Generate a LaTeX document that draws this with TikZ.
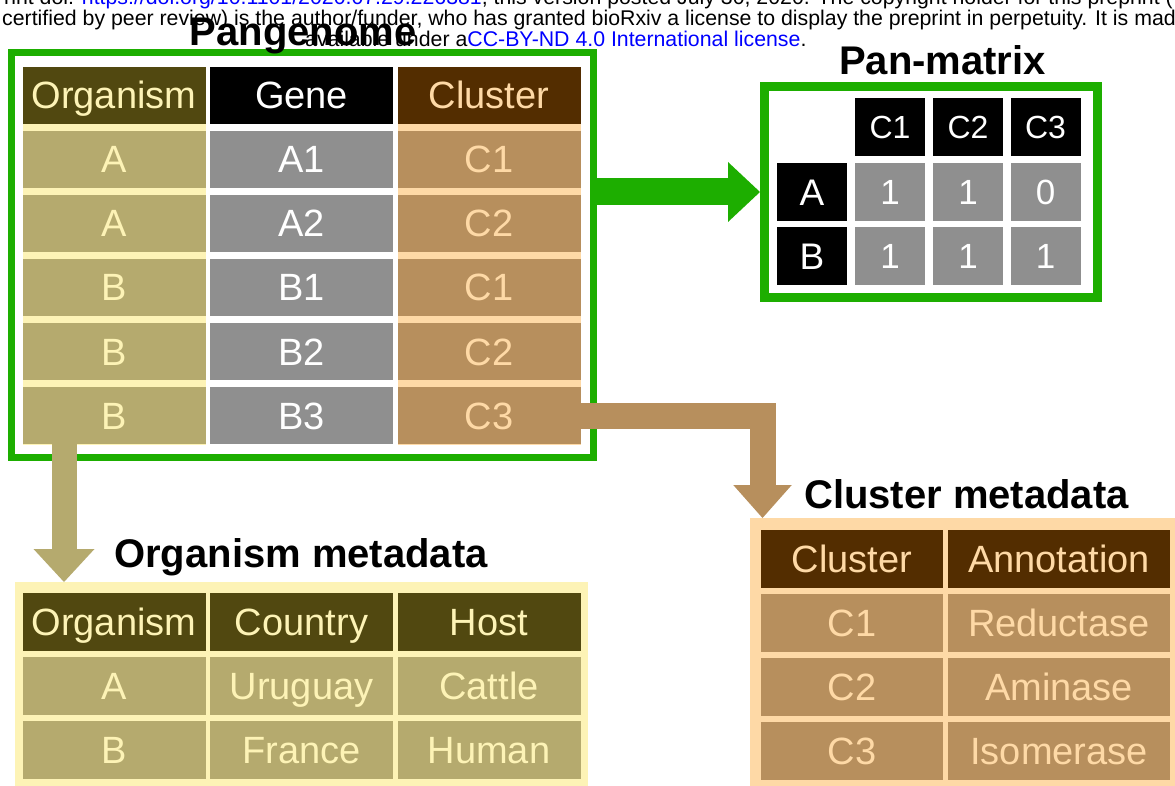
\documentclass[tikz,border=0pt]{standalone}
\usepackage{fontspec}
\setmainfont{Liberation Sans}
\usetikzlibrary{arrows.meta}

\definecolor{pgreen}{RGB}{29,174,0}
\definecolor{olivedark}{RGB}{81,72,16}
\definecolor{olive}{RGB}{181,170,110}
\definecolor{paleyellow}{RGB}{253,243,182}
\definecolor{genegray}{RGB}{143,143,143}
\definecolor{browndark}{RGB}{83,45,0}
\definecolor{tan}{RGB}{183,143,93}
\definecolor{peach}{RGB}{254,217,166}
\definecolor{linkblue}{RGB}{0,0,255}

\begin{document}
\begin{tikzpicture}[x=1pt,y=-1pt,
  tcell/.style={rectangle, inner sep=0pt, outer sep=0pt, minimum height=57pt,
    font=\fontsize{38}{40}\selectfont, text height=27pt, text depth=0pt},
  wcol/.style={minimum width=183pt},
  orghead/.style={tcell, wcol, fill=olivedark, text=paleyellow},
  orgcell/.style={tcell, wcol, fill=olive, text=paleyellow},
  genehead/.style={tcell, wcol, fill=black, text=white},
  genecell/.style={tcell, wcol, fill=genegray, text=white},
  clhead/.style={tcell, fill=browndark, text=peach},
  clcell/.style={tcell, fill=tan, text=peach},
  mcell/.style={rectangle, inner sep=0pt, outer sep=0pt, minimum width=70pt, minimum height=58pt,
    text depth=0pt, text=white},
  mcolhead/.style={mcell, fill=black, font=\fontsize{32}{34}\selectfont, text height=23pt},
  mrowhead/.style={mcell, fill=black, font=\fontsize{37}{40}\selectfont, text height=26.5pt},
  mval/.style={mcell, fill=genegray, font=\fontsize{35}{38}\selectfont, text height=25pt},
  greenframe/.style={draw=pgreen, rectangle, inner sep=0pt},
  heading/.style={font=\fontsize{40}{44}\selectfont\bfseries, anchor=base, inner sep=0pt},
  wm/.style={font=\fontsize{21.3}{24}\selectfont, anchor=base west, inner sep=0pt},
  fat/.style={line join=miter, line cap=butt},
  garrow/.style={fat, draw=pgreen, line width=27pt, -{Triangle[length=32pt,width=60pt,line width=0pt]}},
  oarrow/.style={fat, draw=olive, line width=25pt, -{Triangle[length=33pt,width=61pt,line width=0pt]}},
  barrow/.style={fat, draw=tan, line width=26pt, -{Triangle[length=33pt,width=58.5pt,line width=0pt]}},
]
\useasboundingbox (0,0) rectangle (1175,786);
\clip (0,0) rectangle (1175,786);

% ---------- Pangenome table ----------
\node[greenframe, line width=7pt, minimum width=582.5pt, minimum height=404.5pt] (pgframe) at (302.25,255.25) {};
\fill[paleyellow] (22.5,124) rectangle (205.5,445);
\fill[peach] (397.5,124) rectangle (580.5,445);

\node[orghead] (pgh1) at (114,95.5) {Organism};
\node[genehead] (pgh2) at (301.5,95.5) {Gene};
\node[clhead, wcol] (pgh3) at (489,95.5) {Cluster};

\node[orgcell] (pgr1c1) at (114,159.5) {A};
\node[genecell] (pgr1c2) at (301.5,159.5) {A1};
\node[clcell, wcol] (pgr1c3) at (489,159.5) {C1};

\node[orgcell] (pgr2c1) at (114,223.5) {A};
\node[genecell] (pgr2c2) at (301.5,223.5) {A2};
\node[clcell, wcol] (pgr2c3) at (489,223.5) {C2};

\node[orgcell] (pgr3c1) at (114,287.5) {B};
\node[genecell] (pgr3c2) at (301.5,287.5) {B1};
\node[clcell, wcol] (pgr3c3) at (489,287.5) {C1};

\node[orgcell] (pgr4c1) at (114,351.5) {B};
\node[genecell] (pgr4c2) at (301.5,351.5) {B2};
\node[clcell, wcol] (pgr4c3) at (489,351.5) {C2};

\node[orgcell] (pgr5c1) at (114,415.5) {B};
\node[genecell] (pgr5c2) at (301.5,415.5) {B3};
\node[clcell, wcol] (pgr5c3) at (489,415.5) {C3};

\node[heading] (pgtitle) at (303,46) {Pangenome};

% ---------- Pan-matrix ----------
\node[greenframe, line width=9pt, minimum width=333pt, minimum height=211pt] (pmframe) at (931,192) {};
\node[mcolhead] (pmh1) at (890,127.5) {C1};
\node[mcolhead] (pmh2) at (968,127.5) {C2};
\node[mcolhead] (pmh3) at (1045.5,127.5) {C3};
\node[mrowhead] (pmA) at (812,192) {A};
\node[mval] (pmA1) at (890,192) {1};
\node[mval] (pmA2) at (968,192) {1};
\node[mval] (pmA3) at (1045.5,192) {0};
\node[mrowhead] (pmB) at (812,256) {B};
\node[mval] (pmB1) at (890,256) {1};
\node[mval] (pmB2) at (968,256) {1};
\node[mval] (pmB3) at (1045.5,256) {1};
\node[heading] (pmtitle) at (942.5,75) {Pan-matrix};

% ---------- Organism metadata ----------
\node[rectangle, fill=paleyellow, inner sep=0pt, outer sep=0pt, minimum width=573pt, minimum height=210pt] (omframe) at (301.5,687) {};
\node[tcell, minimum height=58pt, wcol, fill=olivedark, text=paleyellow] (omh1) at (114,622) {Organism};
\node[tcell, minimum height=58pt, wcol, fill=olivedark, text=paleyellow] (omh2) at (301.5,622) {Country};
\node[tcell, minimum height=58pt, wcol, fill=olivedark, text=paleyellow] (omh3) at (489,622) {Host};
\node[orgcell, minimum height=58pt] (omr1c1) at (114,686) {A};
\node[orgcell, minimum height=58pt] (omr1c2) at (301.5,686) {Uruguay};
\node[orgcell, minimum height=58pt] (omr1c3) at (489,686) {Cattle};
\node[orgcell, minimum height=58pt] (omr2c1) at (114,750) {B};
\node[orgcell, minimum height=58pt] (omr2c2) at (301.5,750) {France};
\node[orgcell, minimum height=58pt] (omr2c3) at (489,750) {Human};
\node[heading] (omtitle) at (301,567) {Organism metadata};

% ---------- Cluster metadata ----------
\node[rectangle, fill=peach, inner sep=0pt, outer sep=0pt, minimum width=435pt, minimum height=277pt] (cmframe) at (967.5,656.5) {};
\node[clhead, minimum height=58pt, minimum width=182pt] (cmh1) at (852,558.5) {Cluster};
\node[clhead, minimum height=58pt, minimum width=222pt] (cmh2) at (1059,558.5) {Annotation};
\node[clcell, minimum height=58pt, minimum width=182pt] (cmr1c1) at (852,622.5) {C1};
\node[clcell, minimum height=58pt, minimum width=222pt] (cmr1c2) at (1059,622.5) {Reductase};
\node[clcell, minimum height=58pt, minimum width=182pt] (cmr2c1) at (852,686.5) {C2};
\node[clcell, minimum height=58pt, minimum width=222pt] (cmr2c2) at (1059,686.5) {Aminase};
\node[clcell, minimum height=58pt, minimum width=182pt] (cmr3c1) at (852,750.5) {C3};
\node[clcell, minimum height=58pt, minimum width=222pt] (cmr3c2) at (1059,750.5) {Isomerase};
\node[heading] (cmtitle) at (966.5,508) {Cluster metadata};

% ---------- Block arrows ----------
\draw[garrow] (pgframe.east |- pmA) -- (pmframe.west |- pmA);
\draw[oarrow] ([xshift=-50pt]pgr5c1.south) -- ([xshift=-50pt]pgr5c1.south |- omframe.north);
\draw[barrow] (pgr5c3.east) -| ([xshift=12.5pt]cmframe.north west);

% ---------- Preprint notice ----------
\node[wm] (wm1) at (4,4.5) {rint doi: \textcolor{linkblue}{https://doi.org/10.1101/2020.07.29.226381}; this version posted July 30, 2020. The copyright holder for this preprint (};
\node[wm] (wm2) at (2,26) {certified by peer review) is the author/funder, who has granted bioRxiv a license to display the preprint in perpetuity. It is made};
\node[wm] (wm3) at (305,46.5) {available under a\textcolor{linkblue}{CC-BY-ND 4.0 International license}.};
\end{tikzpicture}
\end{document}
